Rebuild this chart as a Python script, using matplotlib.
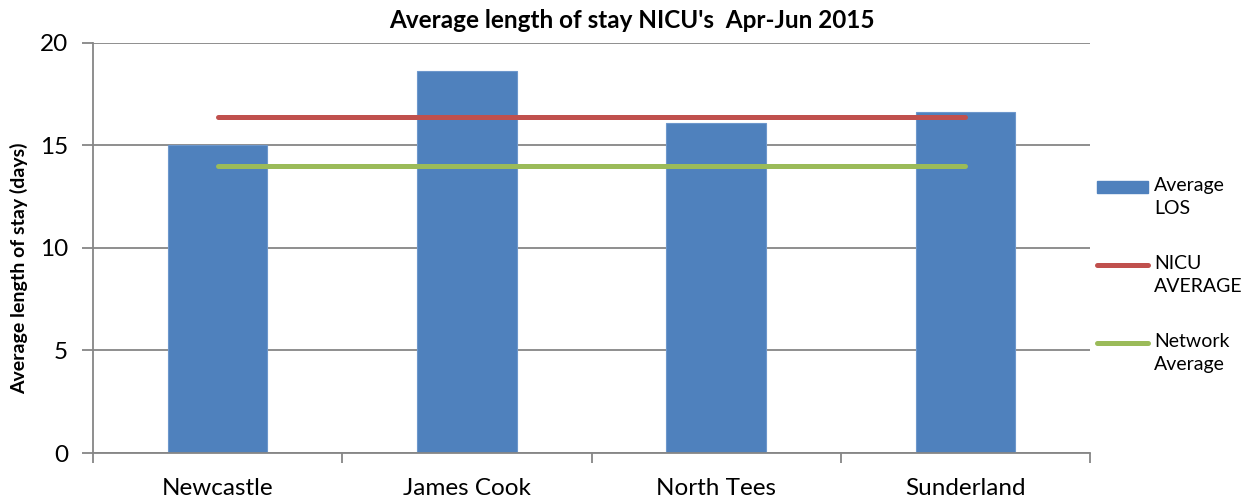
import numpy as np
import matplotlib.pyplot as plt
from matplotlib.patches import Rectangle
from matplotlib.lines import Line2D

units = ['Newcastle', 'James Cook', 'North Tees', 'Sunderland']
avg_los = [15.0, 18.6, 16.1, 16.6]
nicu_avg = [16.4, 16.4, 16.4, 16.4]
network_avg = [14.0, 14.0, 14.0, 14.0]

plt.rcParams['font.family'] = ['Lato', 'DejaVu Sans']
grey = '#868686'
blue, red, green = '#4f81bd', '#c0504d', '#9bbb59'

W, H = 1245, 503
fig = plt.figure(figsize=(W / 100, H / 100), dpi=100)
ax = fig.add_axes([93 / W, 1 - 453 / H, (1090 - 93) / W, (453 - 42.7) / H])

x = np.arange(len(units))
ax.bar(x, avg_los, width=0.4, color=blue, edgecolor='#6d97cc', linewidth=0.8, zorder=2)
ax.plot(x, nicu_avg, color=red, lw=3.6, solid_capstyle='round', zorder=3)
ax.plot(x, network_avg, color=green, lw=3.6, solid_capstyle='round', zorder=3)

ax.set_xlim(-0.5, 3.5)
ax.set_ylim(0, 20)
ax.set_yticks([0, 5, 10, 15, 20])
ax.yaxis.grid(True, color=grey, lw=1.3, zorder=0)
ax.set_axisbelow(True)
ax.set_xticks(x)
ax.set_xticklabels(units, fontsize=17.5)
ax.set_xticks(np.arange(-0.5, 3.6, 1), minor=True)
ax.tick_params(axis='x', which='major', length=0, pad=18)
ax.tick_params(axis='x', which='minor', length=7, color=grey, width=1.3)
ax.tick_params(axis='y', length=8, color=grey, width=1.3, labelsize=17.5, pad=10)
for s in ['top', 'right']:
    ax.spines[s].set_visible(False)
for s in ['left', 'bottom']:
    ax.spines[s].set_color(grey)
    ax.spines[s].set_linewidth(1.3)

# y label sits a little below the axes centre, as in the original
fig.text(19 / W, 1 - 268 / H, 'Average length of stay (days)', fontsize=14,
         fontweight='bold', rotation=90, ha='center', va='center')
fig.text(632 / W, 1 - 20 / H, "Average length of stay NICU's  Apr-Jun 2015",
         fontsize=17.5, fontweight='bold', ha='center', va='center')

# legend, handle aligned with the first line of each label
labels = ['Average\nLOS', 'NICU\nAVERAGE', 'Network\nAverage']
ys = [187, 265, 343]
for i, (lab, yy) in enumerate(zip(labels, ys)):
    yf = 1 - yy / H
    if i == 0:
        fig.add_artist(Rectangle((1097 / W, yf - 6 / H), 51 / W, 12 / H,
                                 transform=fig.transFigure, color=blue))
    else:
        fig.add_artist(Line2D([1097 / W, 1148 / W], [yf, yf], transform=fig.transFigure,
                              color=[red, green][i - 1], lw=3.6, solid_capstyle='round'))
    fig.text(1154 / W, yf + 10 / H, lab, fontsize=14, va='top', ha='left', linespacing=1.45)

fig.savefig('out.png', dpi=100)
